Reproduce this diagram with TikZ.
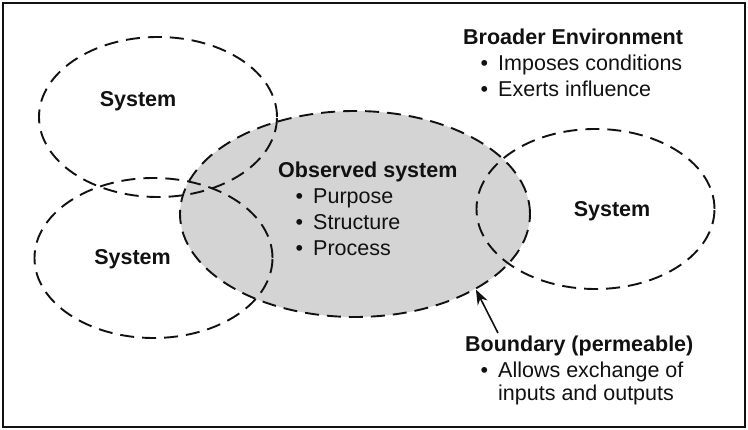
\documentclass[tikz,border=0pt]{standalone}
\usepackage{fontspec}
\setmainfont{Liberation Sans}
\usepackage{xcolor}
\usepackage{tikz}
\usetikzlibrary{arrows.meta,shapes.geometric}
\definecolor{obsfill}{HTML}{D4D4D4}
\definecolor{inkblack}{HTML}{111111}
\newcommand{\bul}{\textbullet\hspace{10pt}}

\begin{document}
\begin{tikzpicture}[
  x=1pt,
  y=-1pt,
  font=\fontsize{21.5}{26}\selectfont,
  ring/.style={ellipse, draw=inkblack, dash pattern=on 14pt off 8pt,
    line width=1.9pt, inner sep=0pt},
  sysring/.style={ring, minimum width=238pt, minimum height=160pt},
  obsring/.style={ring, fill=obsfill, minimum width=350pt, minimum height=206pt},
  lbl/.style={inner sep=0pt, anchor=base west, text=inkblack},
  headlbl/.style={lbl, font=\fontsize{21.5}{26}\selectfont\bfseries},
  syslbl/.style={headlbl, anchor=base},
  pointer/.style={-{Stealth[length=15pt,width=11pt]}, draw=inkblack, line width=1.6pt}
]
\useasboundingbox (0,0) rectangle (748,430);

% Outer frame
\draw[draw=inkblack, line width=2.2pt] (3,3) rectangle (745,427);

% Observed system and neighbouring systems
\node[obsring] (obs) at (355,214) {};
\node[sysring] (systl) at (158,117) {};
\node[sysring] (sysbl) at (153.5,258) {};
\node[sysring] (sysr) at (595.5,209) {};

\node[syslbl] (systltxt) at (138,107) {System};
\node[syslbl] (sysbltxt) at (132.5,265) {System};
\node[syslbl] (sysrtxt) at (612,217) {System};

% Observed system text
\node[headlbl] (obshead) at (278,178) {Observed system};
\node[lbl] (obspurpose) at (295.5,204) {\bul Purpose};
\node[lbl] (obsstructure) at (295.5,230) {\bul Structure};
\node[lbl] (obsprocess) at (295.5,256) {\bul Process};

% Broader environment
\node[headlbl] (envhead) at (463,45) {Broader Environment};
\node[lbl] (envimpose) at (480.5,71) {\bul Imposes conditions};
\node[lbl] (envexert) at (480.5,97) {\bul Exerts influence};

% Boundary
\node[headlbl] (bndhead) at (465,352) {Boundary (permeable)};
\node[lbl] (bndallow) at (480.5,378) {\bul Allows exchange of};
\node[lbl] (bndinout) at (498,401) {inputs and outputs};

\coordinate (bndtail) at (498,333);
\draw[pointer] (bndtail) -- (obs.-32);
\end{tikzpicture}
\end{document}
